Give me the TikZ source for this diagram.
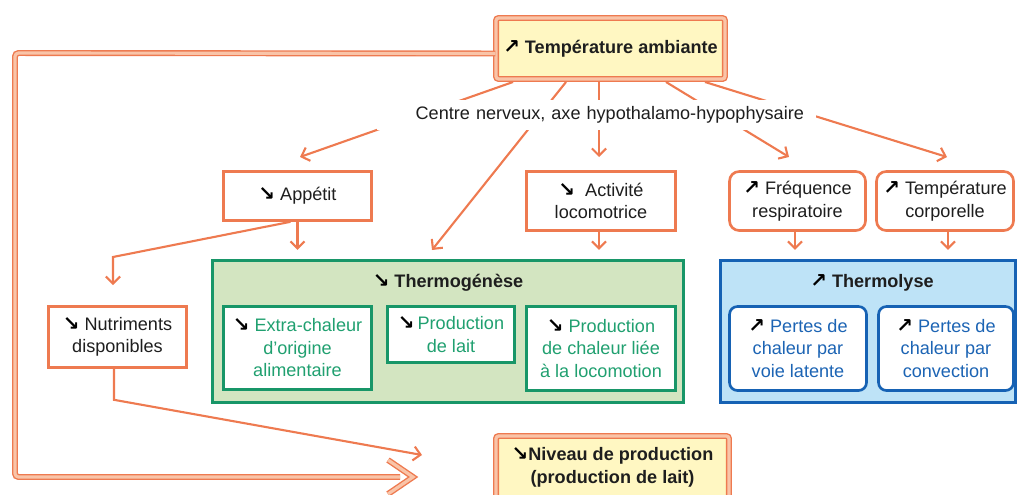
\documentclass[tikz,border=0pt]{standalone}
\usepackage{fontspec}
\setmainfont{Liberation Sans}
\newfontfamily\arwfont{DejaVu Sans}
\usetikzlibrary{arrows.meta}

\definecolor{lineorange}{RGB}{238,122,80}
\definecolor{paleorange}{RGB}{249,196,168}
\definecolor{paleyellow}{RGB}{255,247,194}
\definecolor{greenline}{RGB}{24,150,104}
\definecolor{greenfill}{RGB}{211,229,193}
\definecolor{greentext}{RGB}{32,160,112}
\definecolor{blueline}{RGB}{22,98,180}
\definecolor{bluefill}{RGB}{190,227,247}
\definecolor{bluetext}{RGB}{28,100,180}
\definecolor{darktext}{RGB}{30,30,30}

\newcommand{\hausse}{{\arwfont\bfseries\color{black}\scalebox{1.1}{↗}}}
\newcommand{\baisse}{{\arwfont\bfseries\color{black}\scalebox{1.1}{↘}}}

\begin{document}
\begin{tikzpicture}[x=0.02cm, y=-0.02cm,
    font=\fontsize{10.3}{12.8}\selectfont, text=darktext,
    arr/.style={draw=lineorange, line width=1.2pt, -{Straight Barb[length=4pt,width=8pt]}},
    dbl/.style={draw=lineorange, line width=0.8pt, double=paleorange, double distance=1.8pt},
    obox/.style={draw=lineorange, line width=1.5pt, fill=white, align=center, inner sep=0pt},
    rbox/.style={obox, rounded corners=5.5pt},
    key/.style={dbl, fill=paleyellow, rounded corners=1.5pt, align=center, inner sep=0pt, font=\fontsize{10.3}{12.8}\selectfont\bfseries},
    gbox/.style={draw=greenline, line width=1.5pt, fill=white, align=center, inner sep=0pt, text=greentext},
    bbox/.style={draw=blueline, line width=1.5pt, fill=white, align=center, inner sep=0pt, text=bluetext, rounded corners=4.5pt}]

  \clip (0,0) rectangle (1018,494);

  % Groups
  \node[draw=greenline, line width=1.5pt, fill=greenfill, minimum width=9.42cm, minimum height=2.84cm] (thermog) at (448,331.5) {};
  \node[draw=blueline, line width=1.5pt, fill=bluefill, minimum width=5.9cm, minimum height=2.84cm] (thermol) at (868,331.5) {};
  \node[font=\fontsize{10.3}{12.8}\selectfont\bfseries] (thermogt) at (448,283) {\baisse\ Thermogénèse};
  \node[font=\fontsize{10.3}{12.8}\selectfont\bfseries] (thermolt) at (872,283) {\hausse\ Thermolyse};

  % Main boxes
  \node[key, minimum width=4.58cm, minimum height=1.22cm] (temp) at (610.5,48.5) {\hausse\ Température ambiante};
  \node[key, minimum width=4.66cm, minimum height=1.26cm] (niveau) at (612.5,467.5) {\baisse Niveau de production\\(production de lait)};

  \node[obox, minimum width=2.96cm, minimum height=0.98cm] (app) at (297.5,196) {\baisse\ Appétit};
  \node[obox, minimum width=2.76cm, minimum height=1.22cm] (nutr) at (117.5,337) {\baisse\ Nutriments\\disponibles};
  \node[obox, minimum width=2.98cm, minimum height=1.18cm] (act) at (601,201) {\baisse\ \ Activité\\locomotrice};
  \node[rbox, minimum width=2.72cm, minimum height=1.18cm] (freq) at (797.5,201) {\hausse\ Fréquence\\respiratoire};
  \node[rbox, minimum width=2.74cm, minimum height=1.18cm] (tcorp) at (945,201) {\hausse\ Température\\corporelle};

  % Inside the groups
  \node[gbox, minimum width=2.96cm, minimum height=1.66cm] (extra) at (297.5,348) {\baisse\ Extra-chaleur\\d{\char"27}origine\\alimentaire};
  \node[gbox, minimum width=2.54cm, minimum height=1.12cm] (lait) at (451,334.5) {\baisse\,Production\\de lait};
  \node[gbox, minimum width=2.98cm, minimum height=1.68cm] (loco) at (601,348.5) {\baisse\ Production\\de chaleur liée\\à la locomotion};
  \node[bbox, minimum width=2.74cm, minimum height=1.68cm] (latente) at (798,348.5) {\hausse\ Pertes de\\chaleur par\\voie latente};
  \node[bbox, minimum width=2.7cm, minimum height=1.68cm] (convec) at (946,348.5) {\hausse\ Pertes de\\chaleur par\\convection};

  % Rays from the ambient temperature
  \coordinate (s1) at (513,82);  \coordinate (e1) at (300,157);
  \coordinate (s2) at (566,82);  \coordinate (e2) at (432,250);
  \coordinate (s3) at (599,82);  \coordinate (e3) at (599,157);
  \coordinate (s4) at (666,82);  \coordinate (e4) at (789,157);
  \coordinate (s5) at (705,82);  \coordinate (e5) at (947,157);
  \foreach \i in {1,...,5} {
    \draw[arr] (s\i) -- (e\i);
  }
  \node[fill=white, minimum width=8.78cm, minimum height=0.6cm, text width=8.3cm, align=right, inner xsep=0.24cm] (centre) at (596.5,115) {Centre nerveux, axe hypothalamo-hypophysaire};

  % Short arrows onto the groups
  \draw[arr] (app.south) -- ++(0,28);
  \draw[arr] (act.south -| e3) -- ++(0,18);
  \draw[arr] (freq.south -| 795,0) -- ++(0,18);
  \draw[arr] (tcorp.south -| 948,0) -- ++(0,18);

  % Appetite to nutrients
  \coordinate (k1) at (113,257);
  \draw[arr] ([xshift=-0.14cm]app.south) -- (k1) -- ++(0,28);

  % Nutrients to production level
  \coordinate (k2) at (422,455);
  \draw[arr] ([xshift=-0.07cm]nutr.south) -- ++(0,31) -- (k2);

  % Big loop back to production level
  \coordinate (lp1) at (15,53);
  \coordinate (lp2) at (15,477);
  \coordinate (lp3) at (400,477);
  \draw[dbl, rounded corners=2pt] ([yshift=-0.1cm]temp.west) -- (lp1) -- (lp2) -- (lp3);
  \draw[dbl] (388,460) -- (413,477) -- (388,494);
\end{tikzpicture}
\end{document}
